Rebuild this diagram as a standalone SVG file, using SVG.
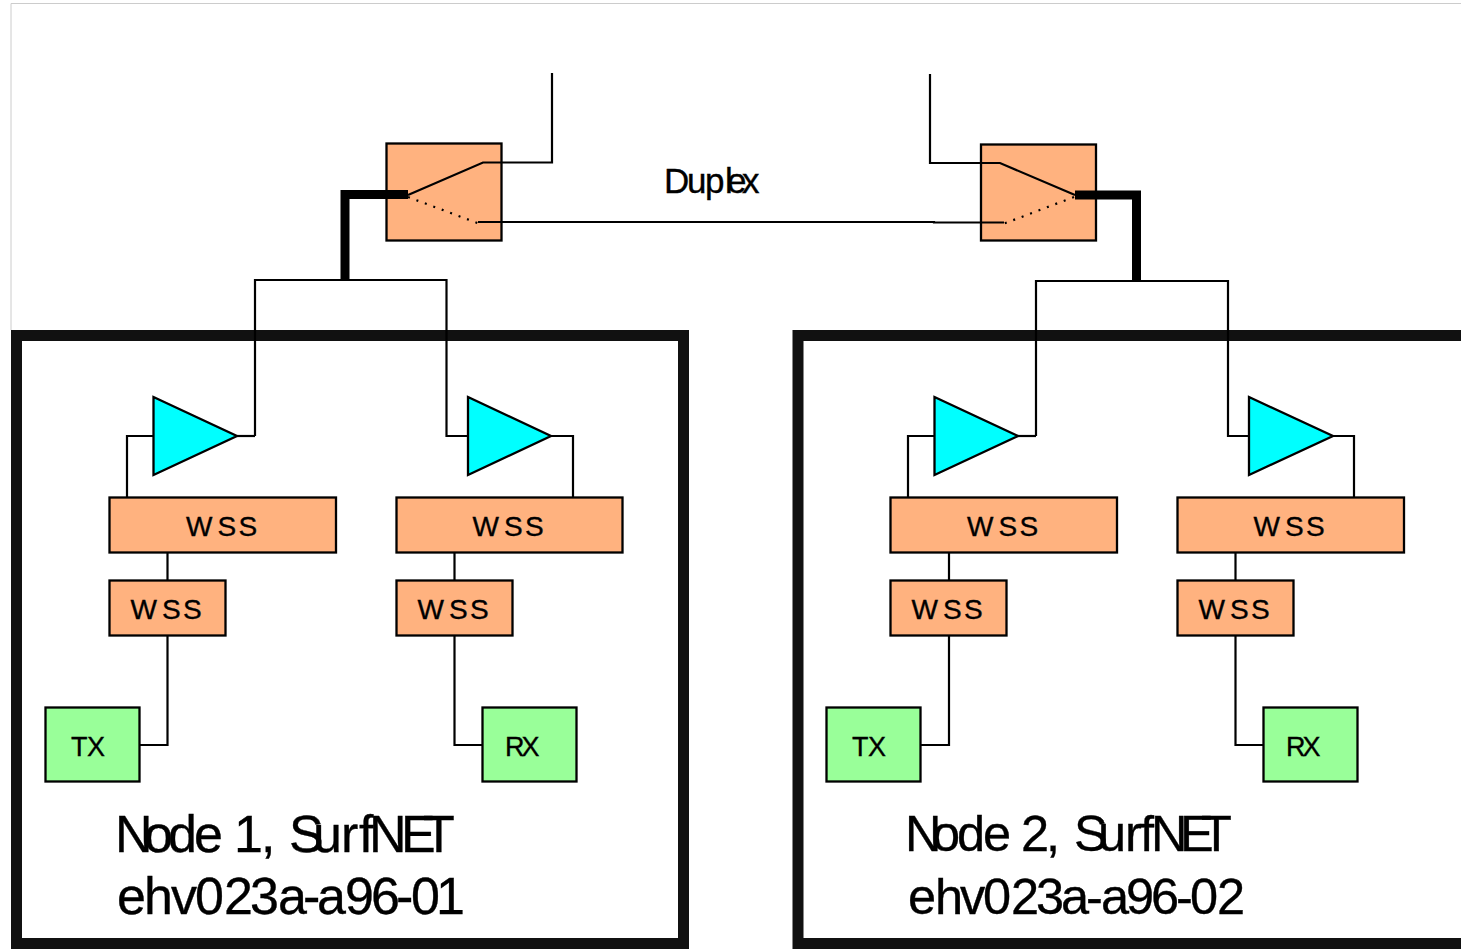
<svg xmlns="http://www.w3.org/2000/svg" width="1461" height="950" viewBox="0 0 1461 950">
<style>
text{font-family:"Liberation Sans",Arial,sans-serif;fill:#000;stroke:#000;stroke-width:.35px}
.o{fill:#ffb27f;stroke:#000;stroke-width:2.300}
.g{fill:#9f9;stroke:#000;stroke-width:2.300}
.c{fill:#0ff;stroke:#000;stroke-width:2.300}
.l{fill:none;stroke:#000;stroke-width:2.200}
.th{fill:none;stroke:#000;stroke-width:9}
.fr{fill:none;stroke:#111;stroke-width:11}
.w{font-size:28px}
.tr{font-size:27px}
.b1{font-size:52px}
.b2{font-size:50.500px}
</style>
<rect width="1461" height="950" fill="#fff"/>
<path d="M11 330V3.500H1461" fill="none" stroke="#ccc" stroke-width="1"/>
<g id="frames">
<rect class="fr" x="16.500" y="335.500" width="667" height="608"/>
<path class="fr" d="M1470 335.500H798V943.500H1470"/>
</g>
<g id="switch-1"><rect class="o" x="386.500" y="143.500" width="115" height="97"/></g>
<g id="switch-2"><rect class="o" x="981" y="144.500" width="115" height="96"/></g>
<g id="connectors">
<path class="l" d="M552 73V162.500H483L408 195"/>
<path class="l" d="M478 222H934L934 222.500H1004"/>
<path class="l" d="M930 74V163H1000L1075 195"/>
<path class="l" stroke-dasharray="2 7" d="M408 197L480 224"/>
<path class="l" stroke-dasharray="2 7" d="M1074 197L1003 224"/>
<path class="th" d="M408 194.500H345V280"/>
<path class="th" d="M1075 195H1136.500V280"/>
<path class="l" d="M255 436V280H446.500V436H468"/>
<path class="l" d="M237 436H255"/>
<path class="l" d="M1036 436V281H1228V436H1249"/>
<path class="l" d="M1018 436H1036"/>
<path class="l" d="M127 497V436H153"/>
<path class="l" d="M551 436H573V497"/>
<path class="l" d="M908 497V436H934"/>
<path class="l" d="M1333 436H1354V497"/>
<path class="l" d="M167.500 552V581M167.500 636V745H139"/>
<path class="l" d="M454.500 552V581M454.500 636V745H483"/>
<path class="l" d="M949 552V581M949 636V745H921"/>
<path class="l" d="M1235.500 552V581M1235.500 636V745H1264"/>
</g>
<g id="duplex"><text x="664 687 705 725 727 742" y="193" font-size="35">Duplex</text></g>
<g id="amp-1a"><polygon class="c" points="153.500,397 237,436 153.500,475"/></g>
<g id="amp-1b"><polygon class="c" points="468,397 551,436 468,475"/></g>
<g id="amp-2a"><polygon class="c" points="934.500,397 1018,436 934.500,475"/></g>
<g id="amp-2b"><polygon class="c" points="1249,397 1333,436 1249,475"/></g>
<g id="wss-1a"><rect class="o" x="109.500" y="497.500" width="226.500" height="55"/><text class="w" x="186 217.500 238.500" y="536">WSS</text></g>
<g id="wss-1b"><rect class="o" x="396.500" y="497.500" width="226" height="55"/><text class="w" x="472.500 504 525" y="536">WSS</text></g>
<g id="wss-1c"><rect class="o" x="109.500" y="580.500" width="116" height="55"/><text class="w" x="130.500 162 183" y="619">WSS</text></g>
<g id="wss-1d"><rect class="o" x="396.500" y="580.500" width="116" height="55"/><text class="w" x="417.500 449 470" y="619">WSS</text></g>
<g id="wss-2a"><rect class="o" x="890.500" y="497.500" width="226.500" height="55"/><text class="w" x="967 998.500 1019.500" y="536">WSS</text></g>
<g id="wss-2b"><rect class="o" x="1177.500" y="497.500" width="226.500" height="55"/><text class="w" x="1253.500 1285 1306" y="536">WSS</text></g>
<g id="wss-2c"><rect class="o" x="890.500" y="580.500" width="116" height="55"/><text class="w" x="911.500 943 964" y="619">WSS</text></g>
<g id="wss-2d"><rect class="o" x="1177.500" y="580.500" width="116" height="55"/><text class="w" x="1198.500 1230 1251" y="619">WSS</text></g>
<g id="tx-1"><rect class="g" x="45.500" y="707.500" width="94" height="74"/><text class="tr" x="71 87" y="756">TX</text></g>
<g id="rx-1"><rect class="g" x="482.500" y="707.500" width="94" height="74"/><text class="tr" x="505 521.500" y="756">RX</text></g>
<g id="tx-2"><rect class="g" x="826.500" y="707.500" width="94" height="74"/><text class="tr" x="852 868" y="756">TX</text></g>
<g id="rx-2"><rect class="g" x="1263.500" y="707.500" width="94" height="74"/><text class="tr" x="1286 1302.500" y="756">RX</text></g>
<g id="label-1"><text class="b1" x="115 144 168 194 222 234 261 276 289 313 341 359 369 401 423" y="852">Node 1, SurfNET</text><text class="b1" x="117 144 171 195 224 250 278 303 317 345 371 396 411 436" y="914">ehv023a-a96-01</text></g>
<g id="label-2"><text class="b2" x="905 932 957 983 1010 1021 1046 1060 1074 1098 1125 1140 1151 1180 1201" y="851">Node 2, SurfNET</text><text class="b2" x="908 935 960 983 1011 1036 1061 1086 1101 1126 1151 1176 1190 1217" y="914">ehv023a-a96-02</text></g>
</svg>
